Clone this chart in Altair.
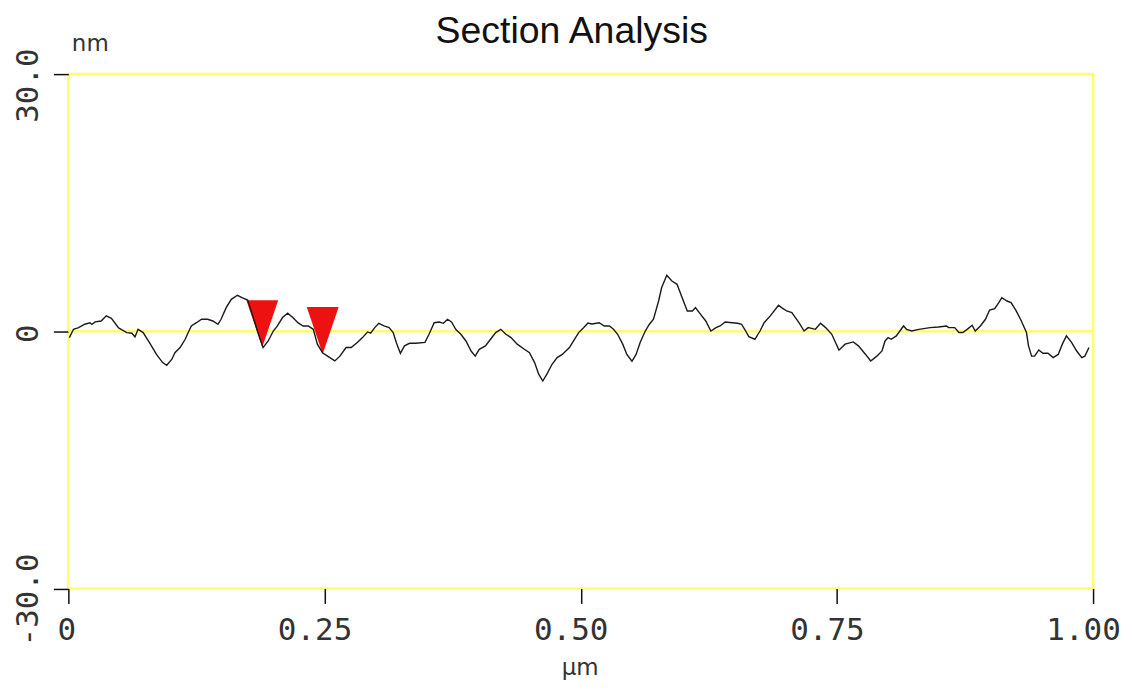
import altair as alt
import pandas as pd

# Profile (position in µm, height in nm)
x_um = [0.001, 0.005, 0.010, 0.016, 0.021, 0.023, 0.026, 0.032, 0.037, 0.042,
        0.049, 0.052, 0.057, 0.062, 0.065, 0.068, 0.073, 0.079, 0.086, 0.092,
        0.096, 0.101, 0.104, 0.109, 0.114, 0.117, 0.120, 0.125, 0.130, 0.136,
        0.141, 0.146, 0.149, 0.154, 0.159, 0.165, 0.170, 0.175, 0.180, 0.185,
        0.190, 0.195, 0.200, 0.204, 0.209, 0.214, 0.219, 0.224, 0.229, 0.234,
        0.239, 0.243, 0.248, 0.253, 0.260, 0.265, 0.271, 0.276, 0.282, 0.287,
        0.292, 0.295, 0.299, 0.303, 0.308, 0.313, 0.317, 0.320, 0.324, 0.328,
        0.333, 0.339, 0.348, 0.352, 0.357, 0.362, 0.366, 0.370, 0.374, 0.378,
        0.383, 0.388, 0.393, 0.397, 0.401, 0.407, 0.412, 0.417, 0.422, 0.427,
        0.432, 0.438, 0.445, 0.450, 0.455, 0.459, 0.463, 0.467, 0.472, 0.477,
        0.482, 0.489, 0.493, 0.498, 0.503, 0.507, 0.511, 0.518, 0.523, 0.528,
        0.532, 0.536, 0.541, 0.545, 0.550, 0.554, 0.558, 0.563, 0.567, 0.571,
        0.576, 0.579, 0.584, 0.589, 0.594, 0.599, 0.604, 0.609, 0.612, 0.617,
        0.622, 0.627, 0.632, 0.636, 0.641, 0.648, 0.653, 0.657, 0.661, 0.664,
        0.670, 0.675, 0.679, 0.685, 0.693, 0.696, 0.701, 0.706, 0.713, 0.718,
        0.722, 0.729, 0.734, 0.739, 0.745, 0.748, 0.752, 0.758, 0.766, 0.771,
        0.778, 0.783, 0.789, 0.794, 0.797, 0.800, 0.803, 0.808, 0.815, 0.818,
        0.823, 0.830, 0.841, 0.849, 0.857, 0.859, 0.865, 0.869, 0.873, 0.878,
        0.882, 0.885, 0.890, 0.895, 0.899, 0.904, 0.908, 0.911, 0.916, 0.920,
        0.925, 0.930, 0.935, 0.937, 0.940, 0.943, 0.947, 0.951, 0.956, 0.961,
        0.966, 0.970, 0.974, 0.979, 0.984, 0.989, 0.992, 0.996]
z_nm = [-0.74, 0.23, 0.43, 0.82, 1.0, 0.8, 1.1, 1.2, 1.8, 1.5,
        0.4, 0.2, -0.15, -0.23, -0.66, 0.23, -0.15, -1.3, -2.7, -3.65,
        -3.96, -3.26, -2.5, -1.9, -0.93, -0.15, 0.62, 1.0, 1.4, 1.4,
        1.2, 0.82, 1.4, 2.76, 3.73, 4.2, 3.9, 3.65, 1.8, -0.15,
        -1.9, -1.13, 0.03, 0.62, 1.6, 2.1, 1.6, 1.0, 0.62, 0.62,
        0.23, -1.5, -2.5, -2.9, -3.46, -2.9, -1.9, -1.9, -1.3, -0.74,
        -0.08, -0.23, 0.43, 0.93, 0.62, 0.43, -0.15, -1.3, -2.56, -1.7,
        -1.4, -1.4, -1.3, -0.35, 1.0, 1.08, 0.93, 1.4, 1.08, 0.23,
        -0.35, -1.13, -2.3, -2.9, -2.1, -1.7, -0.93, -0.15, 0.23, -0.35,
        -0.74, -1.5, -2.1, -2.5, -3.65, -5.0, -5.8, -5.0, -3.85, -3.07,
        -2.7, -1.9, -1.13, -0.15, 0.43, 0.95, 0.85, 1.0, 0.62, 0.62,
        0.23, -0.35, -1.5, -2.7, -3.5, -2.7, -1.3, 0.03, 0.82, 1.4,
        3.53, 5.1, 6.53, 5.86, 5.48, 3.9, 2.37, 2.37, 2.76, 1.98,
        1.2, 0.03, 0.43, 0.62, 1.08, 1.0, 0.93, 0.82, 0.03, -0.62,
        -0.93, 0.03, 1.0, 1.8, 3.03, 2.76, 2.37, 2.18, 1.0, 0.03,
        0.43, 0.23, 0.93, 0.43, -0.35, -1.13, -2.2, -1.5, -1.24, -1.7,
        -2.7, -3.46, -2.9, -2.3, -1.13, -0.74, -0.93, -0.54, 0.62, 0.23,
        0.03, 0.23, 0.43, 0.5, 0.62, 0.43, 0.43, -0.15, -0.15, 0.31,
        0.7, 0.03, 0.62, 1.4, 2.48, 2.64, 3.34, 3.92, 3.53, 3.34,
        2.37, 1.2, -0.15, -1.7, -2.9, -2.9, -2.18, -2.56, -2.56, -3.07,
        -2.7, -1.5, -0.54, -1.3, -2.3, -3.07, -2.9, -1.9]

# Cursor markers (apex positions)
marker_x = [0.1892, 0.2482]
marker_z = [-1.85, -2.65]

# Reference level
zero_level = [0]

# Axes
x_ticks = [0, 0.25, 0.5, 0.75, 1.0]
x_tick_labels = ["0", "0.25", "0.50", "0.75", "1.00"]
y_ticks = [-30, 0, 30]
y_tick_labels = ["-30.0", "0", "30.0"]


def label_expr(values, labels):
    expr = "''"
    for v, l in zip(values, labels):
        expr = f"datum.value == {v} ? '{l}' : ({expr})"
    return expr


profile = pd.DataFrame({"x": x_um, "z": z_nm})
markers = pd.DataFrame({"x": marker_x, "z": marker_z})
zero_df = pd.DataFrame({"z": zero_level})

YELLOW = "#ffff6e"
MONO = "DejaVu Sans Mono"
LABEL_COLOR = "#333333"

x_axis = alt.Axis(
    values=x_ticks,
    labelExpr=label_expr(x_ticks, x_tick_labels),
    title="µm",
    titleFont="DejaVu Sans",
    titleFontSize=23,
    titleFontWeight="normal",
    titleColor=LABEL_COLOR,
    titleX=512.5,
    titleY=86,
    titleAlign="center",
    titleBaseline="alphabetic",
    labelFont=MONO,
    labelFontSize=31,
    labelColor=LABEL_COLOR,
    labelBaseline="alphabetic",
    labelAlign="center",
    labelPadding=36,
    labelOffset={"condition": {"test": "datum.value == 0", "value": -2}, "value": -10},
    labelFlush=False,
    labelOverlap=False,
    labelBound=False,
    tickSize=15,
    tickColor="#111111",
    tickWidth=1.5,
    domain=False,
    grid=False,
)

y_axis = alt.Axis(
    values=y_ticks,
    labelExpr=label_expr(y_ticks, y_tick_labels),
    title="nm",
    titleFont="DejaVu Sans",
    titleFontSize=23,
    titleFontWeight="normal",
    titleColor=LABEL_COLOR,
    titleAngle=0,
    titleX=3,
    titleY=-23.5,
    titleAlign="left",
    titleBaseline="alphabetic",
    labelFont=MONO,
    labelFontSize=31,
    labelColor=LABEL_COLOR,
    labelAngle=-90,
    labelAlign="center",
    labelBaseline="alphabetic",
    labelPadding=15.5,
    labelOffset={"condition": {"test": "datum.value == 0", "value": 2}, "value": 11},
    labelFlush=False,
    labelOverlap=False,
    labelBound=False,
    tickSize=15,
    tickColor="#111111",
    tickWidth=1.5,
    domain=False,
    grid=False,
)

x_scale = alt.Scale(domain=[0, 1], nice=False, zero=False)
y_scale = alt.Scale(domain=[-30, 30], nice=False, zero=False)

zero_rule = alt.Chart(zero_df).mark_rule(color=YELLOW, strokeWidth=2.5).encode(
    y=alt.Y("z:Q", scale=y_scale, axis=y_axis)
)

tri = alt.Chart(markers).mark_point(
    shape="M-0.68,-2L0.68,-2L0,0Z",
    filled=True,
    fill="#ee1111",
    opacity=1,
    strokeWidth=0,
    size=2209,
).encode(
    x=alt.X("x:Q", scale=x_scale, axis=x_axis),
    y=alt.Y("z:Q", scale=y_scale, axis=y_axis),
)

line = alt.Chart(profile).mark_line(color="#1a1a1a", strokeWidth=1.4).encode(
    x=alt.X("x:Q", scale=x_scale, axis=x_axis),
    y=alt.Y("z:Q", scale=y_scale, axis=y_axis),
)

chart = alt.layer(zero_rule, tri, line).properties(
    width=1027,
    height=515.5,
    background="white",
    title=alt.TitleParams(
        "Section Analysis",
        font="Liberation Sans",
        fontSize=37.5,
        fontWeight="normal",
        color="#111111",
        anchor="middle",
        frame="group",
        dx=-9,
        baseline="alphabetic",
        offset=-48,
    ),
    autosize=alt.AutoSizeParams(type="none"),
    padding={"left": 60.5, "top": 65.5, "right": 32, "bottom": 95},
).configure_view(
    stroke=YELLOW,
    strokeWidth=2.5,
)

chart.save("out.html", embed_options={"renderer": "svg", "actions": False})
